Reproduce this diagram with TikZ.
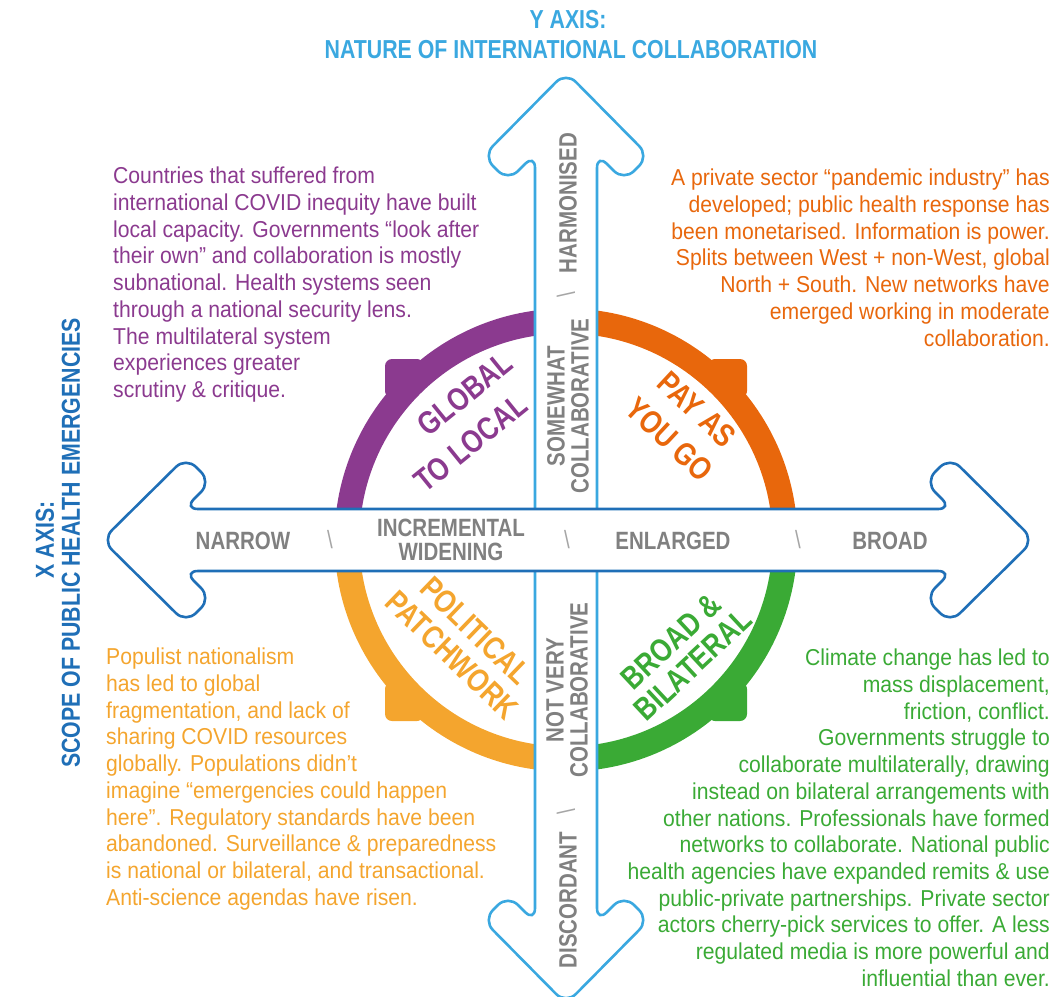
\documentclass[tikz,border=0pt]{standalone}
\usepackage{fontspec}
\setmainfont{Liberation Sans}[FakeStretch=0.92]
\newfontfamily\cond{Liberation Sans}[FakeStretch=0.82]
\definecolor{cpurple}{HTML}{8B3A8F}
\definecolor{corange}{HTML}{E8670C}
\definecolor{cyellow}{HTML}{F4A52E}
\definecolor{cgreen}{HTML}{3AAA35}
\definecolor{cltblue}{HTML}{3AA8E0}
\definecolor{cdkblue}{HTML}{1F6FB7}
\definecolor{cgray}{HTML}{808080}
\tikzset{
  body/.style={inner sep=0, font=\fontsize{23}{26.7}\selectfont},
  lbl/.style={inner sep=0, text=cgray, font=\cond\bfseries\fontsize{25}{24}\selectfont, align=center},
  sep/.style={inner sep=0, text=cgray!70, font=\cond\fontsize{25}{24}\selectfont},
  ringlbl/.style={inner sep=0, font=\cond\bfseries\fontsize{32}{#1}\selectfont},
  title/.style={inner sep=0, font=\cond\bfseries\fontsize{26}{30}\selectfont},
  arrowbox/.style={fill=white, line width=2.6pt, rounded corners=14pt},
  ring/.style={line width=25pt},
}
\begin{document}
\begin{tikzpicture}[x=1pt,y=-1pt]
\useasboundingbox (0,0) rectangle (1057,996);
% rings
\begin{scope}[shift={(566,540)}]
  \draw[ring, cpurple] (180:219) arc[start angle=180, end angle=270, radius=219];
  \draw[ring, corange] (270:219) arc[start angle=270, end angle=360, radius=219];
  \draw[ring, cgreen] (0:219) arc[start angle=0, end angle=90, radius=219];
  \draw[ring, cyellow] (90:219) arc[start angle=90, end angle=180, radius=219];
  \fill[cpurple, rounded corners=7pt] (-142,-181) -- (-181,-181) -- (-181,-142) -- cycle;
  \fill[corange, rounded corners=7pt] (142,-181) -- (181,-181) -- (181,-142) -- cycle;
  \fill[cgreen, rounded corners=7pt] (142,181) -- (181,181) -- (181,142) -- cycle;
  \fill[cyellow, rounded corners=7pt] (-142,181) -- (-181,181) -- (-181,142) -- cycle;
\end{scope}
% vertical arrow
\begin{scope}[shift={(566,538)}, rotate=90]
  \draw[arrowbox, draw=cltblue] (0,-31) -- (384,-31) -- (357,-58) -- (382,-83) -- (466,0) -- (382,83) -- (357,58) -- (384,31) -- (-384,31) -- (-357,58) -- (-382,83) -- (-466,0) -- (-382,-83) -- (-357,-58) -- (-384,-31) -- cycle;
\end{scope}
% horizontal arrow
\begin{scope}[shift={(568,540)}]
  \draw[arrowbox, draw=cdkblue] (0,-31) -- (384,-31) -- (357,-58) -- (382,-83) -- (466,0) -- (382,83) -- (357,58) -- (384,31) -- (-384,31) -- (-357,58) -- (-382,83) -- (-466,0) -- (-382,-83) -- (-357,-58) -- (-384,-31) -- cycle;
\end{scope}
% titles
\node[title, text=cltblue] (yt1) at (568,20) {Y AXIS:};
\node[title, text=cltblue] (yt2) at (571,50) {NATURE OF INTERNATIONAL COLLABORATION};
\node[title, text=cdkblue, rotate=90] (xt1) at (45,540) {X AXIS:};
\node[title, text=cdkblue, rotate=90] (xt2) at (71,543) {SCOPE OF PUBLIC HEALTH EMERGENCIES};
% horizontal labels
\node[lbl] (narrow) at (243,541) {NARROW};
\node[sep] (s1) at (330,540) {\textbackslash};
\node[lbl] (incr) at (451,540) {INCREMENTAL\\WIDENING};
\node[sep] (s2) at (567,540) {\textbackslash};
\node[lbl] (enl) at (673,541) {ENLARGED};
\node[sep] (s3) at (798,540) {\textbackslash};
\node[lbl] (broad) at (890,541) {BROAD};
% vertical labels
\node[lbl, rotate=90] (harm) at (568,203) {HARMONISED};
\node[sep, rotate=90] (s4) at (566,295) {\textbackslash};
\node[lbl, rotate=90] (somew) at (568,406) {SOMEWHAT\\COLLABORATIVE};
\node[lbl, rotate=90] (notvery) at (567,690) {NOT VERY\\COLLABORATIVE};
\node[sep, rotate=90] (s5) at (566,812) {\textbackslash};
\node[lbl, rotate=90] (disc) at (568,900) {DISCORDANT};
% ring labels
\node[ringlbl=41.9, text=cpurple, rotate=39, align=left] (glob) at (463.5,422.2) {\hspace*{37.85pt}GLOBAL\\TO LOCAL};
\node[ringlbl=40.9, text=corange, rotate=-43, align=center] (pay) at (683.2,424.2) {PAY AS\\YOU GO};
\node[ringlbl=34, text=cyellow, rotate=-44, align=center] (pol) at (464,643) {POLITICAL\\PATCHWORK};
\node[ringlbl=32, text=cgreen, rotate=43, align=center] (bb) at (682,653) {BROAD \&\\BILATERAL};
% scenario texts
\node[body, text=cpurple, anchor=north west, align=left] (tpurple) at (113,167) {Countries that suffered from\\international COVID inequity have built\\local capacity. Governments “look after\\their own” and collaboration is mostly\\subnational. Health systems seen\\through a national security lens.\\The multilateral system\\experiences greater\\scrutiny \& critique.};
\node[body, text=corange, anchor=north east, align=right] (torange) at (1050,169) {A private sector “pandemic industry” has\\developed; public health response has\\been monetarised. Information is power.\\Splits between West + non-West, global\\North + South. New networks have\\emerged working in moderate\\collaboration.};
\node[body, text=cyellow, anchor=north west, align=left] (tyellow) at (106,648) {Populist nationalism\\has led to global\\fragmentation, and lack of\\sharing COVID resources\\globally. Populations didn’t\\imagine “emergencies could happen\\here”. Regulatory standards have been\\abandoned. Surveillance \& preparedness\\is national or bilateral, and transactional.\\Anti-science agendas have risen.};
\node[body, text=cgreen, anchor=north east, align=right] (tgreen) at (1050,649) {Climate change has led to\\mass displacement,\\friction, conflict.\\Governments struggle to\\collaborate multilaterally, drawing\\instead on bilateral arrangements with\\other nations. Professionals have formed\\networks to collaborate. National public\\health agencies have expanded remits \& use\\public-private partnerships. Private sector\\actors cherry-pick services to offer. A less\\regulated media is more powerful and\\influential than ever.};
\end{tikzpicture}
\end{document}
